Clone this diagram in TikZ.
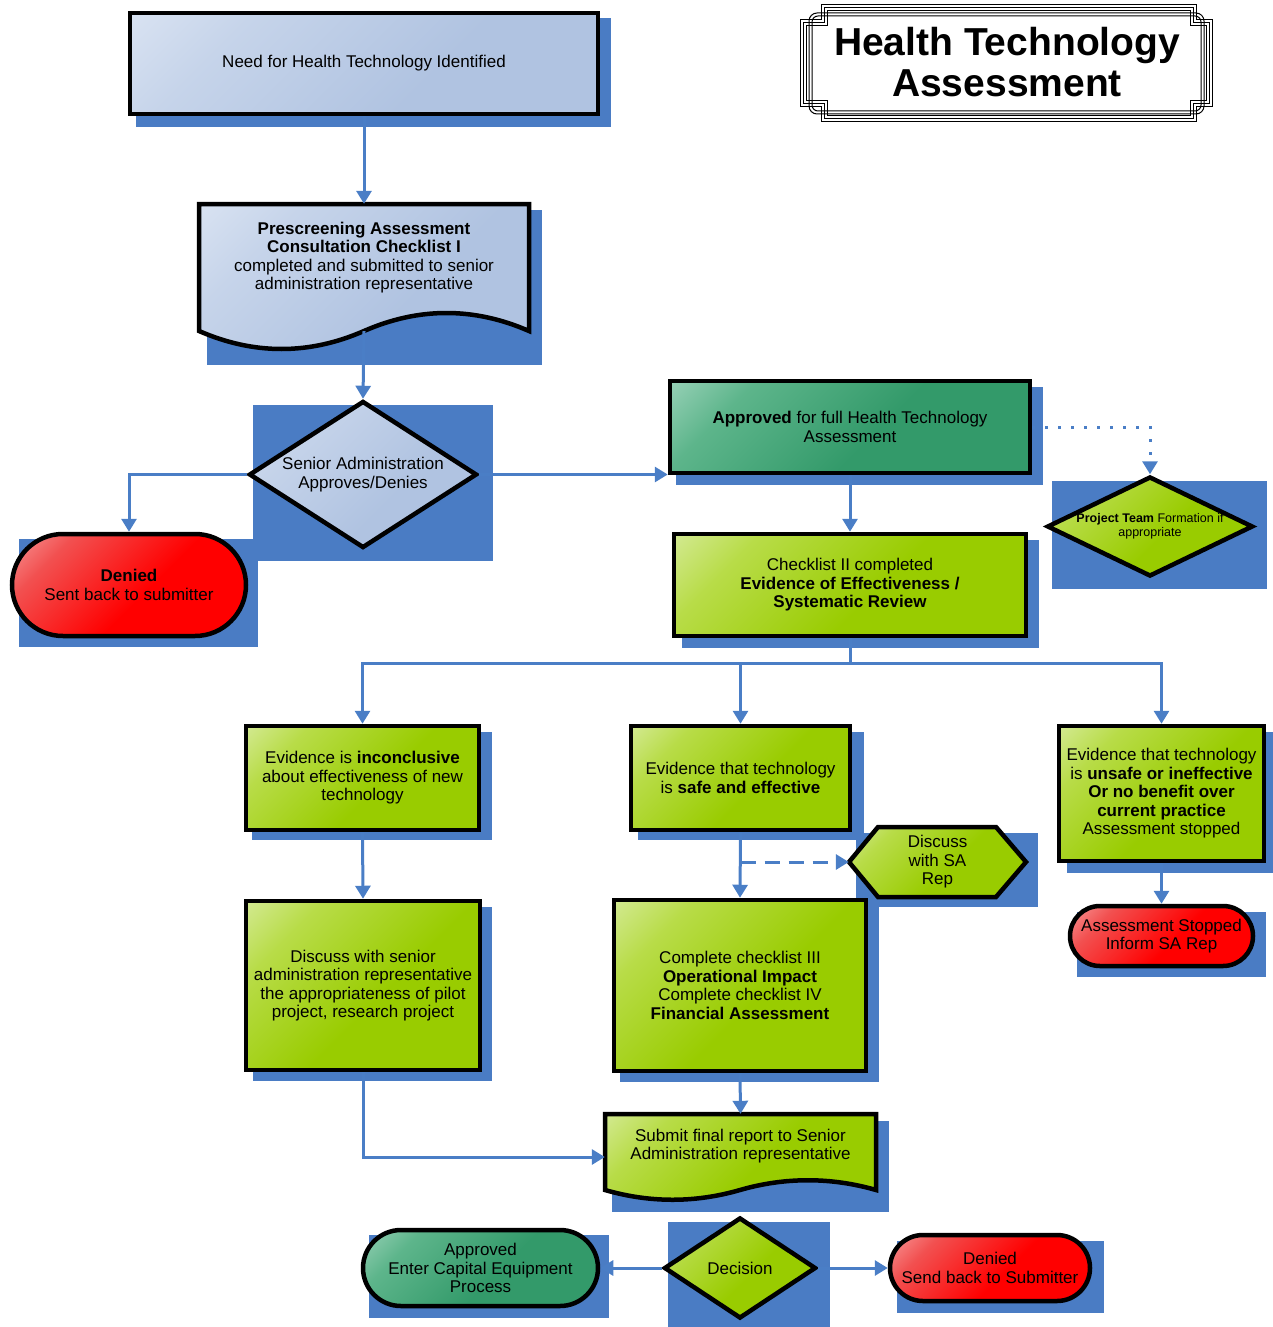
\documentclass[tikz,border=0pt]{standalone}
\usepackage{fontspec}
\setmainfont{Liberation Sans}
\usetikzlibrary{arrows.meta,shapes.geometric}
\definecolor{shblue}{HTML}{4A7CC4}
\definecolor{arrblue}{HTML}{4A7EC6}
\definecolor{blueL}{HTML}{EAF0F9}
\definecolor{blueM}{HTML}{C6D4EA}
\definecolor{blueD}{HTML}{B0C3E1}
\definecolor{limeL}{HTML}{F0F8E0}
\definecolor{limeM}{HTML}{B8DC48}
\definecolor{limeD}{HTML}{99CC00}
\definecolor{tealL}{HTML}{D4EEE4}
\definecolor{tealM}{HTML}{5DB58B}
\definecolor{tealD}{HTML}{339A6A}
\definecolor{redL}{HTML}{FBE4E4}
\definecolor{redM}{HTML}{F25050}
\definecolor{redD}{HTML}{FF0000}
\pgfdeclareverticalshading{limeshade}{100bp}{color(0bp)=(limeD); color(45bp)=(limeD); color(72bp)=(limeM); color(100bp)=(limeL)}
\pgfdeclareverticalshading{blueshade}{100bp}{color(0bp)=(blueD); color(40bp)=(blueD); color(70bp)=(blueM); color(100bp)=(blueL)}
\pgfdeclareverticalshading{tealshade}{100bp}{color(0bp)=(tealD); color(45bp)=(tealD); color(72bp)=(tealM); color(100bp)=(tealL)}
\pgfdeclareverticalshading{redshade}{100bp}{color(0bp)=(redD); color(45bp)=(redD); color(72bp)=(redM); color(100bp)=(redL)}
\begin{document}
\begin{tikzpicture}[x=1pt,y=-1pt,
  txt/.style={font=\fontsize{17}{18.5}\selectfont, align=center},
  basebox/.style={txt, draw=black, line width=4.5pt, inner sep=0pt, line join=miter},
  bluefill/.style={shade, shading=blueshade, shading angle=45},
  limefill/.style={shade, shading=limeshade, shading angle=45},
  tealfill/.style={shade, shading=tealshade, shading angle=45},
  redfill/.style={shade, shading=redshade, shading angle=45},
  shadowbox/.style={fill=shblue},
  tipstyle/.style={-{Triangle[length=13pt,width=15pt]}},
  arr/.style={draw=arrblue, line width=3pt, tipstyle},
  plainline/.style={draw=arrblue, line width=3pt},
  dia/.style={basebox, diamond},
  frameline/.style={draw=black, line width=1pt}
]
\useasboundingbox (0,0) rectangle (1273,1327);

% ---------- title frame ----------
\foreach \d in {0,3,6}{
  \draw[frameline] (821+\d,5+\d) -- (1196-\d,5+\d) -- (1196-\d,20+\d) -- (1212-\d,20+\d)
    -- (1212-\d,107-\d) -- (1196-\d,107-\d) -- (1196-\d,122-\d) -- (821+\d,122-\d)
    -- (821+\d,107-\d) -- (800+\d,107-\d) -- (800+\d,20+\d) -- (821+\d,20+\d) -- cycle;
}
\draw[frameline, rounded corners=8pt] (809,13) rectangle (1204,114);
\draw[frameline, rounded corners=6pt] (812,16) rectangle (1201,111);
\node[font=\fontsize{39}{41}\selectfont\bfseries, align=center] (title) at (1007,62.5)
  {Health Technology\\Assessment};

% ---------- shadows ----------
\fill[shadowbox] (136,18) rectangle (611,127);     % n1
\fill[shadowbox] (207,210) rectangle (542,365);    % doc1
\fill[shadowbox] (253,405) rectangle (493,561);    % dia1
\fill[shadowbox] (19,539) rectangle (258,647);     % den1
\fill[shadowbox] (676,387) rectangle (1043,485);   % appr
\fill[shadowbox] (1052,481) rectangle (1267,589);  % pt
\fill[shadowbox] (682,540) rectangle (1039,648);   % chk2
\fill[shadowbox] (252,732) rectangle (492,840);    % inc
\fill[shadowbox] (638,732) rectangle (864,840);    % safe
\fill[shadowbox] (1067,732) rectangle (1273,873);  % unsafe
\fill[shadowbox] (1077,912) rectangle (1266,977);  % stop
\fill[shadowbox] (856,833) rectangle (1038,907);   % hex
\fill[shadowbox] (253,907) rectangle (492,1081);   % disc
\fill[shadowbox] (620,905) rectangle (879,1082);   % comp
\fill[shadowbox] (612,1121) rectangle (889,1212);  % doc2
\fill[shadowbox] (668,1222) rectangle (830,1327);  % dec
\fill[shadowbox] (369,1235) rectangle (609,1318);  % apprEnd
\fill[shadowbox] (897,1241) rectangle (1104,1313); % denEnd

% ---------- shapes drawn directly ----------
\path[bluefill, draw=black, line width=4.5pt, line join=miter]
  (199,204) -- (529,204) -- (529,331) .. controls (474,307) and (419,307) .. (364,331)
  .. controls (309,355) and (254,355) .. (199,331) -- cycle;
\path[limefill, draw=black, line width=4.5pt, line join=miter]
  (605,1114) -- (876,1114) -- (876,1190) .. controls (831,1177) and (785,1177) .. (740,1190)
  .. controls (695,1203) and (650,1203) .. (605,1190) -- cycle;
\path[limefill, draw=black, line width=4.5pt, line join=miter]
  (849,862) -- (878,827) -- (996,827) -- (1026,862) -- (996,897) -- (878,897) -- cycle;

% ---------- nodes ----------
\node[basebox, bluefill, minimum width=468, minimum height=101] (n1) at (364,63.5)
  {Need for Health Technology Identified};
\node[inner sep=0pt, minimum width=330, minimum height=127] (doc1) at (364,267.5) {};
\node[txt] (doc1t) at (364,257.5)
  {\textbf{Prescreening Assessment}\\\textbf{Consultation Checklist I}\\completed and submitted to senior\\administration representative};
\node[dia, bluefill, aspect=1.55, minimum width=228, minimum height=147] (dia1) at (363,474.5)
  {Senior Administration\\Approves/Denies};
\node[basebox, redfill, rounded corners=51pt, minimum width=234, minimum height=102] (den1) at (129,585)
  {\textbf{Denied}\\Sent back to submitter};
\node[basebox, tealfill, minimum width=360, minimum height=92] (appr) at (850,427)
  {\textbf{Approved} for full Health Technology\\Assessment};
\node[dia, limefill, aspect=2.06, minimum width=206, minimum height=100,
  font=\fontsize{12.5}{14}\selectfont] (pt) at (1150,526.5)
  {\textbf{Project Team} Formation if\\appropriate};
\node[basebox, limefill, minimum width=352, minimum height=102] (chk2) at (850,585)
  {Checklist II completed\\\textbf{Evidence of Effectiveness /}\\\textbf{Systematic Review}};
\node[basebox, limefill, minimum width=233, minimum height=104] (inc) at (362.5,778)
  {Evidence is \textbf{inconclusive}\\about effectiveness of new\\technology};
\node[basebox, limefill, minimum width=219, minimum height=104] (safe) at (740.5,778)
  {Evidence that technology\\is \textbf{safe and effective}};
\node[basebox, limefill, minimum width=205, minimum height=135] (unsafe) at (1161.5,793.5)
  {Evidence that technology\\is \textbf{unsafe or ineffective}\\\textbf{Or no benefit over}\\\textbf{current practice}\\Assessment stopped};
\node[basebox, redfill, rounded corners=30pt, minimum width=183, minimum height=60] (stop) at (1161.5,936)
  {Assessment Stopped\\Inform SA Rep};
\node[txt, inner sep=0pt, minimum width=177, minimum height=70] (hex) at (937.5,862)
  {Discuss\\with SA\\Rep};
\node[basebox, limefill, minimum width=234, minimum height=169] (disc) at (363,985.5)
  {Discuss with senior\\administration representative\\the appropriateness of pilot\\project, research project};
\node[basebox, limefill, minimum width=252, minimum height=171] (comp) at (740,985.5)
  {Complete checklist III\\\textbf{Operational Impact}\\Complete checklist IV\\\textbf{Financial Assessment}};
\node[inner sep=0pt, minimum width=271, minimum height=86] (doc2) at (740.5,1157) {};
\node[txt] (doc2t) at (740.5,1146)
  {Submit final report to Senior\\Administration representative};
\node[dia, limefill, aspect=1.5, minimum width=152, minimum height=101] (dec) at (740,1268)
  {Decision};
\node[basebox, tealfill, rounded corners=38pt, minimum width=235, minimum height=76] (apprEnd) at (480.5,1268)
  {Approved\\Enter Capital Equipment\\Process};
\node[basebox, redfill, rounded corners=33pt, minimum width=200, minimum height=66] (denEnd) at (990,1268)
  {Denied\\Send back to Submitter};

% ---------- connectors ----------
\coordinate (bus) at (850,663);
\draw[arr] (n1.south) -- (doc1.north);
\draw[arr] (doc1.south) -- (dia1.north);
\draw[arr] (dia1.west) -| (den1.north);
\draw[arr] (dia1.east) -- (dia1.east -| appr.west);
\draw[draw=arrblue, line width=3pt, dash pattern=on 3pt off 10pt, tipstyle]
  (appr.east) -| (pt.north);
\draw[arr] (appr.south) -- (chk2.north);
\draw[plainline] (chk2.south) -- (bus);
\draw[arr] (bus) -| (inc.north);
\draw[arr] (bus) -| (safe.north);
\draw[arr] (bus) -| (unsafe.north);
\draw[arr] (inc.south) -- (disc.north);
\draw[arr] (safe.south) -- (comp.north);
\draw[draw=arrblue, line width=3pt, dash pattern=on 15pt off 9pt, tipstyle]
  (safe.south |- hex.west) -- (hex.west);
\draw[arr] (unsafe.south) -- (stop.north);
\draw[arr] (comp.south) -- (doc2.north);
\draw[arr] (disc.south) |- (doc2.west);
\draw[arr] (dec.west) -- (apprEnd.east);
\draw[arr] (dec.east) -- (denEnd.west);
\end{tikzpicture}
\end{document}
